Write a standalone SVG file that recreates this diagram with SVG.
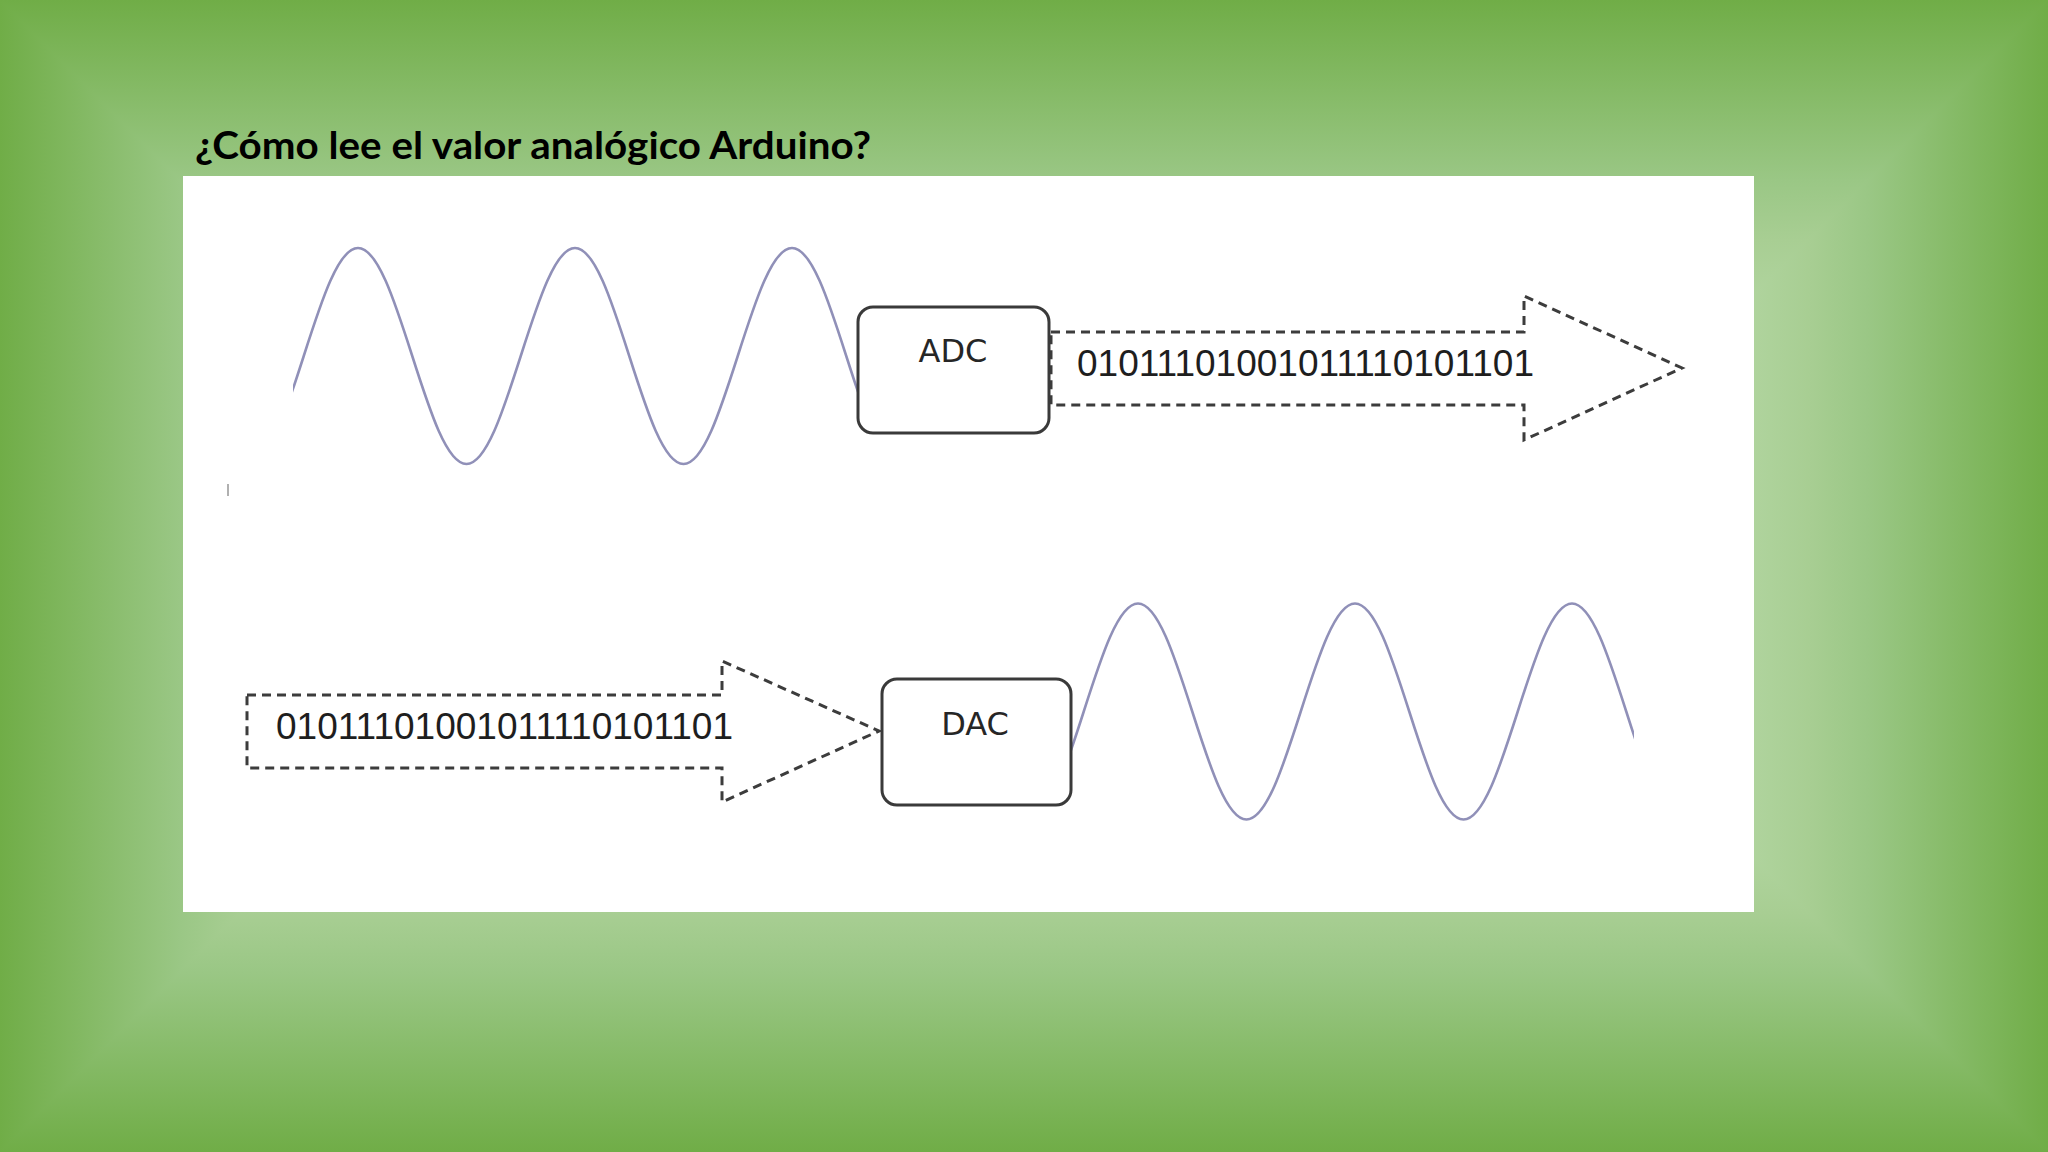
<svg xmlns="http://www.w3.org/2000/svg" width="2048" height="1152" viewBox="0 0 2048 1152">
<style>
.box{fill:#ffffff;stroke:#3a3a3a;stroke-width:3}
.lbl{font-family:"DejaVu Sans",sans-serif;font-size:32px;fill:#262626;text-anchor:middle}
.bits{font-family:"Liberation Sans",Arial,sans-serif;font-size:36px;fill:#1e1e1e}
.dash{fill:none;stroke:#3c3c3c;stroke-width:3;stroke-dasharray:9 6}
.wave{fill:none;stroke:#9090b8;stroke-width:2.6;stroke-linecap:round}
.bg{stroke-width:1.5;stroke-linejoin:round}
</style>
<defs>
<linearGradient id="gT" gradientUnits="userSpaceOnUse" x1="0" y1="0" x2="0" y2="576">
<stop offset="0" stop-color="#70AD47"/><stop offset="0.3125" stop-color="#9AC785"/><stop offset="0.4167" stop-color="#A8CE93"/><stop offset="0.52" stop-color="#B0D49E"/><stop offset="1" stop-color="#D8EBCB"/></linearGradient>
<linearGradient id="gB" href="#gT" x1="0" y1="1152" x2="0" y2="576"/>
<linearGradient id="gL" href="#gT" x1="0" y1="0" x2="576" y2="0"/>
<linearGradient id="gR" href="#gT" x1="2048" y1="0" x2="1472" y2="0"/>
<clipPath id="cTop"><rect x="293" y="200" width="564" height="300"/></clipPath>
<clipPath id="cBot"><rect x="1071" y="560" width="563" height="300"/></clipPath>
</defs>
<g id="background">
<rect x="0" y="0" width="2048" height="1152" fill="#a6cd8e"/>
<polygon class="bg" points="0,0 0,1152 576,576" fill="url(#gL)" stroke="url(#gL)"/>
<polygon class="bg" points="2048,0 2048,1152 1472,576" fill="url(#gR)" stroke="url(#gR)"/>
<polygon class="bg" points="0,0 2048,0 1472,576 576,576" fill="url(#gT)" stroke="url(#gT)"/>
<polygon class="bg" points="0,1152 2048,1152 1472,576 576,576" fill="url(#gB)" stroke="url(#gB)"/>
</g>
<g id="title">
<text x="195" y="159" font-family="Lato,'Open Sans',sans-serif" font-weight="bold" font-size="38" fill="#000000" textLength="676" lengthAdjust="spacingAndGlyphs">¿Cómo lee el valor analógico Arduino?</text>
</g>
<rect id="panel" x="183" y="176" width="1571" height="736" fill="#ffffff"/>
<line x1="228" y1="484" x2="228" y2="496" stroke="#b0b0b0" stroke-width="2"/>
<g id="analog-in">
<path class="wave" clip-path="url(#cTop)" d="M249.5,464 c19.63,0 36.56,-52.67 54.25,-108 c17.69,-55.33 34.62,-108 54.25,-108 c19.63,0 36.56,52.67 54.25,108 c17.69,55.33 34.62,108 54.25,108 c19.63,0 36.56,-52.67 54.25,-108 c17.69,-55.33 34.62,-108 54.25,-108 c19.63,0 36.56,52.67 54.25,108 c17.69,55.33 34.62,108 54.25,108 c19.63,0 36.56,-52.67 54.25,-108 c17.69,-55.33 34.62,-108 54.25,-108 c19.63,0 36.56,52.67 54.25,108 c17.69,55.33 34.62,108 54.25,108"/>
</g>
<g id="analog-out">
<path class="wave" clip-path="url(#cBot)" d="M1029.5,819.5 c19.63,0 36.56,-52.67 54.25,-108 c17.69,-55.33 34.62,-108 54.25,-108 c19.63,0 36.56,52.67 54.25,108 c17.69,55.33 34.62,108 54.25,108 c19.63,0 36.56,-52.67 54.25,-108 c17.69,-55.33 34.62,-108 54.25,-108 c19.63,0 36.56,52.67 54.25,108 c17.69,55.33 34.62,108 54.25,108 c19.63,0 36.56,-52.67 54.25,-108 c17.69,-55.33 34.62,-108 54.25,-108 c19.63,0 36.56,52.67 54.25,108 c17.69,55.33 34.62,108 54.25,108"/>
</g>
<g id="connectors">
<g id="bits-out">
<polygon class="dash" points="1051,332 1524,332 1524,296 1682,368 1524,440 1524,405 1051,405"/>
<text class="bits" x="1077" y="376" textLength="457" lengthAdjust="spacingAndGlyphs">01011101001011110101101</text>
</g>
<g id="bits-in">
<polygon class="dash" points="247,695 722,695 722,661 879,731 722,802 722,768 247,768"/>
<text class="bits" x="276" y="739" textLength="457" lengthAdjust="spacingAndGlyphs">01011101001011110101101</text>
</g>
</g>
<g id="adc">
<rect class="box" x="858" y="307" width="191" height="126" rx="15"/>
<text class="lbl" x="953" y="362">ADC</text>
</g>
<g id="dac">
<rect class="box" x="882" y="679" width="189" height="126" rx="15"/>
<text class="lbl" x="975" y="735">DAC</text>
</g>
</svg>
